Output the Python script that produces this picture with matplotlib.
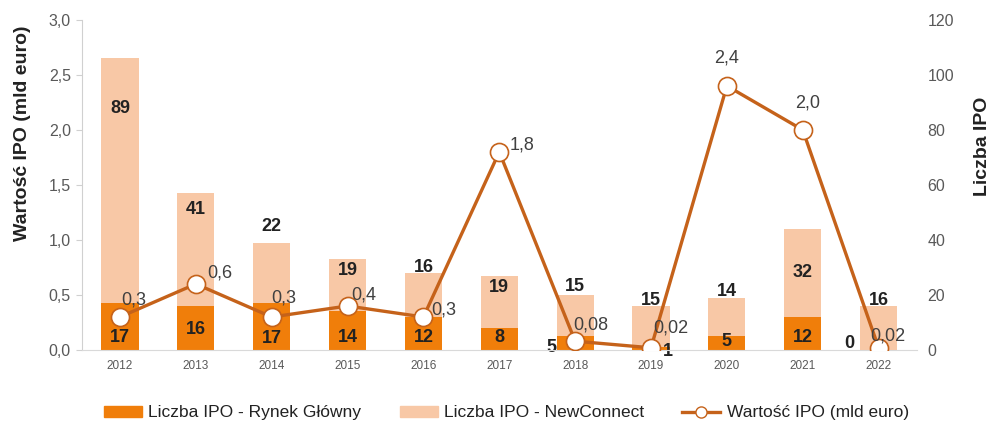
import matplotlib
matplotlib.use("Agg")
import matplotlib.pyplot as plt
from matplotlib.patches import Patch
from matplotlib.lines import Line2D
import numpy as np

plt.rcParams['font.family'] = ['Liberation Sans', 'DejaVu Sans']

years = ['2012', '2013', '2014', '2015', '2016', '2017', '2018', '2019', '2020', '2021', '2022']
ipo_main = [17, 16, 17, 14, 12, 8, 5, 1, 5, 12, 0]
ipo_newconnect = [89, 41, 22, 19, 16, 19, 15, 15, 14, 32, 16]
ipo_value = [0.3, 0.6, 0.3, 0.4, 0.3, 1.8, 0.08, 0.02, 2.4, 2.0, 0.02]
value_labels = ['0,3', '0,6', '0,3', '0,4', '0,3', '1,8', '0,08', '0,02', '2,4', '2,0', '0,02']
left_ticks = ['0,0', '0,5', '1,0', '1,5', '2,0', '2,5', '3,0']

C_MAIN = '#F07E0A'
C_NC = '#F8C8A6'
C_LINE = '#C5621A'
C_TICK = '#595959'

x = np.arange(len(years))

fig = plt.figure(figsize=(9.93, 4.23), dpi=100)
ax = fig.add_axes([0.0826, 0.1726, 0.8404, 0.7804])
ax2 = ax.twinx()

# stacked bars: counts on the right-hand scale
bw = 0.49
ax2.bar(x, ipo_main, width=bw, color=C_MAIN, zorder=2)
ax2.bar(x, ipo_newconnect, width=bw, bottom=ipo_main, color=C_NC, zorder=2)
ax2.set_ylim(0, 120)
ax2.set_yticks(range(0, 121, 20))
ax2.tick_params(axis='y', length=0, pad=8, labelsize=11.5, labelcolor=C_TICK)
for s in ax2.spines.values():
    s.set_visible(False)

# count labels (offsets in points)
main_dx = [0, 0, 0, 0, 0, 0, -17, 12, 0, 0, -21]
main_dy = [9, 15, 8, 9, 9, 9, 2, -1, 6, 9, 5]
nc_dy = [-36, -12, 11.5, -8, 3.6, -8.6, 5.8, 4.3, 4.3, -31.7, 4.3]
for i in x:
    ax2.annotate(str(ipo_main[i]), xy=(i, 0), xytext=(main_dx[i], main_dy[i]),
                 textcoords='offset points', ha='center', va='center',
                 fontsize=13, fontweight='bold', color='#222222', zorder=3)
    top = ipo_main[i] + ipo_newconnect[i]
    ax2.annotate(str(ipo_newconnect[i]), xy=(i, top), xytext=(0, nc_dy[i]),
                 textcoords='offset points', ha='center', va='center',
                 fontsize=13, fontweight='bold', color='#222222', zorder=3)

# value line on the left-hand scale, drawn above the bars
ax.set_zorder(ax2.get_zorder() + 1)
ax.patch.set_visible(False)
ax.plot(x, ipo_value, color=C_LINE, lw=2.4, marker='o', ms=13,
        mfc='white', mec=C_LINE, mew=1.2, zorder=4)
val_dx = [10, 17, 9, 12, 15, 16.5, 11, 14, 0, 3.6, 6.5]
val_dy = [12, 8, 13.5, 8, 5, 5, 11.5, 14, 20, 19.5, 8.6]
for i in x:
    ax.annotate(value_labels[i], xy=(i, ipo_value[i]), xytext=(val_dx[i], val_dy[i]),
                textcoords='offset points', ha='center', va='center',
                fontsize=13, color='#404040', zorder=5)

ax.set_xlim(-0.5, len(years) - 0.5)
ax.set_ylim(0, 3.0)
ax.set_yticks(np.arange(0, 3.01, 0.5))
ax.set_yticklabels(left_ticks)
ax.set_xticks(x)
ax.set_xticklabels(years)
ax.tick_params(axis='y', length=4, color='#D0D0D0', labelsize=11.5, labelcolor=C_TICK, pad=4)
ax.tick_params(axis='x', length=0, labelsize=8.5, labelcolor=C_TICK, pad=7)
for side in ('top', 'right'):
    ax.spines[side].set_visible(False)
ax.spines['left'].set_color('#D0D0D0')
ax.spines['bottom'].set_color('#D9D9D9')

fig.text(0.023, 0.685, 'Wartość IPO (mld euro)', rotation=90, ha='center', va='center',
         fontsize=14, fontweight='bold', color='#222222')
fig.text(0.989, 0.655, 'Liczba IPO', rotation=90, ha='center', va='center',
         fontsize=14, fontweight='bold', color='#222222')

handles = [Patch(color=C_MAIN), Patch(color=C_NC),
           Line2D([], [], color=C_LINE, lw=2.4, marker='o', ms=8, mfc='white', mec=C_LINE)]
labels = ['Liczba IPO - Rynek Główny', 'Liczba IPO - NewConnect', 'Wartość IPO (mld euro)']
fig.legend(handles, labels, loc='center', bbox_to_anchor=(0.51, 0.024), ncol=3,
           frameon=False, fontsize=12.5, columnspacing=2.2, handlelength=2.2,
           handleheight=0.6, handletextpad=0.35, labelcolor='#222222')

fig.savefig('out.png', dpi=100)
